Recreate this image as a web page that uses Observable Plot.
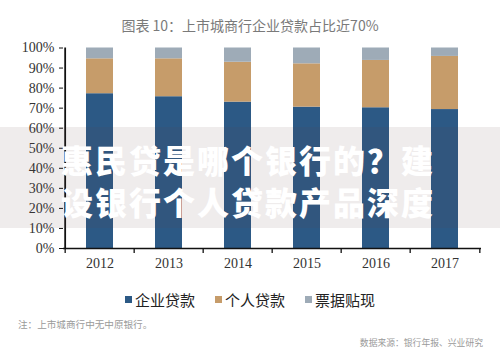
<!DOCTYPE html>
<html>
<head>
<meta charset="utf-8">
<script src="https://cdn.jsdelivr.net/npm/d3@7"></script>
<script src="https://cdn.jsdelivr.net/npm/@observablehq/plot@0.6"></script>
<style>
  html, body { margin: 0; padding: 0; background: #fff; }
  #wrap { position: relative; width: 500px; height: 358px; overflow: hidden; background: #fff; font-family: "Noto Sans CJK SC", "Noto Sans", sans-serif; }
  #chart { position: absolute; left: 0; top: 0; }
  .title { position: absolute; left: 0; width: 500px; top: 15px; text-align: center; font-size: 14px; color: #7a7a7a; }
  .legend { position: absolute; left: 0; width: 500px; top: 289px; display: flex; justify-content: center; align-items: center; font-size: 15px; color: #222; }
  .legend .item { display: flex; align-items: center; margin: 0 10px; }
  .legend .sw { width: 7px; height: 7px; margin-right: 3px; }
  .note { position: absolute; left: 18px; top: 317px; font-size: 9.6px; color: #9a9a9a; }
  .source { position: absolute; right: 17px; top: 336px; font-size: 8.8px; color: #9a9a9a; }
  .band { position: absolute; left: 0; top: 127px; width: 500px; height: 101px; background: rgba(100,70,70,0.10); }
  .band .line { position: absolute; left: 61px; font-size: 32px; font-weight: 900; color: #fff; white-space: nowrap; line-height: 1; letter-spacing: 2px; }
</style>
</head>
<body>
<div id="wrap">
  <div class="title">图表 10：上市城商行企业贷款占比近70%</div>
  <div id="chart"></div>
  <div class="legend" id="legend"></div>
  <div class="note">注：上市城商行中无中原银行。</div>
  <div class="source">数据来源：银行年报、兴业研究</div>
  <div class="band">
    <div class="line" style="top:16px">惠民贷是哪个银行的？建</div>
    <div class="line" style="top:58px">设银行个人贷款产品深度</div>
  </div>
</div>
<script>
const years = ["2012", "2013", "2014", "2015", "2016", "2017"];
const seriesNames = ["企业贷款", "个人贷款", "票据贴现"];
const corporate = [77.2, 75.7, 73.0, 70.5, 70.2, 69.3];
const personal = [17.4, 18.9, 19.9, 21.6, 23.6, 26.5];
const discount = [5.4, 5.4, 7.1, 7.9, 6.2, 4.2];
const seriesColors = ["#2c5985", "#c69c6a", "#9eabb7"];
const yTicks = [0, 10, 20, 30, 40, 50, 60, 70, 80, 90, 100];

const seriesValues = [corporate, personal, discount];
const rows = [];
seriesNames.forEach((s, si) => {
  years.forEach((y, yi) => rows.push({ year: y, series: s, value: seriesValues[si][yi] }));
});

const W = 500, H = 290, mL = 63, mR = 19, mT = 47.5, mB = 42;
const step = (W - mL - mR) / years.length;

const chart = Plot.plot({
  width: W,
  height: H,
  marginLeft: mL,
  marginRight: mR,
  marginTop: mT,
  marginBottom: mB,
  style: { fontFamily: "Liberation Serif, serif", background: "transparent" },
  x: { domain: years, paddingInner: 0.61, paddingOuter: 0.305, label: null, axis: null },
  y: { domain: [0, 100], label: null, axis: null },
  color: { domain: seriesNames, range: seriesColors },
  marks: [
    Plot.barY(rows, { x: "year", y: "value", fill: "series", order: seriesNames }),
    Plot.axisY({ ticks: yTicks, tickFormat: d => d + "%", tickSize: 4, tickPadding: 5, fontSize: 14, stroke: "#111", fill: "#333", label: null }),
    Plot.axisX({ tickSize: 0, tickPadding: 10, fontSize: 14, fill: "#333", label: null }),
    Plot.ruleY([0], { stroke: "#111", strokeWidth: 1.6 }),
    Plot.ruleX(years, { x: d => d, dx: -step / 2, y1: 0, y2: 0, insetBottom: -5, stroke: "#111", strokeWidth: 1.3 }),
    Plot.ruleX(years.slice(-1), { x: d => d, dx: step / 2, y1: 0, y2: 0, insetBottom: -5, stroke: "#111", strokeWidth: 1.3 }),
    Plot.ruleX(years.slice(0, 1), { x: d => d, dx: -step / 2, y1: 0, y2: 100, stroke: "#111", strokeWidth: 1.8 })
  ]
});
document.getElementById("chart").appendChild(chart);

const legend = document.getElementById("legend");
seriesNames.forEach((s, i) => {
  const item = document.createElement("div");
  item.className = "item";
  const sw = document.createElement("span");
  sw.className = "sw";
  sw.style.background = seriesColors[i];
  const lab = document.createElement("span");
  lab.textContent = s;
  item.appendChild(sw);
  item.appendChild(lab);
  legend.appendChild(item);
});
</script>
</body>
</html>
